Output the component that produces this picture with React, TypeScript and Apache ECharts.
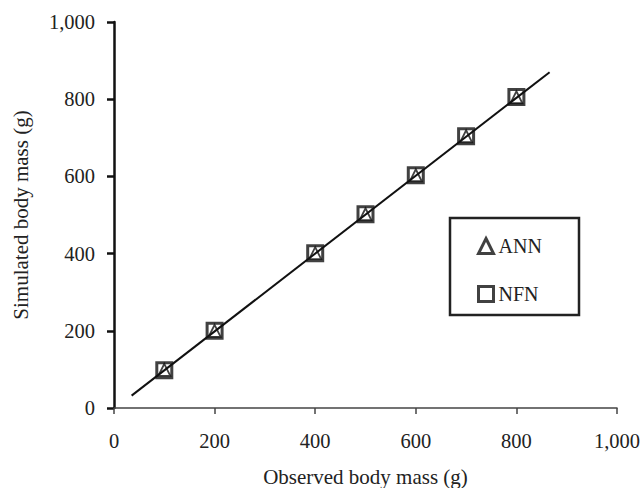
import React, { useEffect, useRef } from "react";
import * as echarts from "echarts";

const observed = [100, 200, 400, 500, 600, 700, 800];
const annSimulated = [99, 200, 401, 502, 603, 704, 805];
const nfnSimulated = [98, 200, 401, 502, 603, 704, 806];
const fitLineX = [35, 866];
const fitLineY = [32, 870];
const seriesNames = ["ANN", "NFN"];

const FONT = "'Liberation Serif', 'DejaVu Serif', serif";

export default function App() {
  const ref = useRef<HTMLDivElement>(null);
  useEffect(() => {
    if (!ref.current) return;
    const chart = echarts.init(ref.current, undefined, { renderer: "svg" });
    const fmt = (v: number) => v.toLocaleString("en-US");
    chart.setOption({
      animation: false,
      backgroundColor: "#ffffff",
      grid: { left: 114, right: 23, top: 22, bottom: 80, containLabel: false, outerBoundsMode: "none" },
      xAxis: {
        type: "value",
        min: 0,
        max: 1000,
        interval: 200,
        name: "Observed body mass (g)",
        nameLocation: "middle",
        nameGap: 58,
        nameTextStyle: { fontFamily: FONT, fontSize: 21, color: "#222" },
        axisLine: { show: true, lineStyle: { color: "#444", width: 1.5 } },
        axisTick: { show: true, length: 6, lineStyle: { color: "#444", width: 1.5 } },
        axisLabel: { fontFamily: FONT, fontSize: 20.5, color: "#222", margin: 22, formatter: fmt },
        splitLine: { show: false },
      },
      yAxis: {
        type: "value",
        min: 0,
        max: 1000,
        interval: 200,
        name: "Simulated body mass (g)",
        nameLocation: "middle",
        nameGap: 83,
        nameTextStyle: { fontFamily: FONT, fontSize: 21, color: "#222" },
        axisLine: { show: true, lineStyle: { color: "#111", width: 2.5 } },
        axisTick: { show: true, length: 7, lineStyle: { color: "#111", width: 2.5 } },
        axisLabel: { fontFamily: FONT, fontSize: 20.5, color: "#222", margin: 19, formatter: fmt },
        splitLine: { show: false },
      },
      legend: {
        orient: "vertical",
        left: 472,
        top: 231,
        itemWidth: 15,
        itemHeight: 15,
        itemGap: 28,
        textStyle: { fontFamily: FONT, fontSize: 20, color: "#222" },
        data: [
          {
            name: seriesNames[0],
            icon: "triangle",
            itemStyle: { color: "transparent", borderColor: "#111", borderWidth: 3 },
          },
          {
            name: seriesNames[1],
            icon: "rect",
            itemStyle: { color: "transparent", borderColor: "#111", borderWidth: 3 },
          },
        ],
      },
      graphic: [
        {
          type: "rect",
          shape: { x: 450, y: 218, width: 129, height: 97 },
          style: { fill: "#fff", stroke: "#222", lineWidth: 2.5 },
          z: -1,
        },
      ],
      series: [
        {
          name: "fit",
          type: "line",
          data: fitLineX.map((x, i) => [x, fitLineY[i]]),
          showSymbol: false,
          symbol: "none",
          lineStyle: { color: "#111", width: 2 },
          silent: true,
          z: 1,
        },
        {
          name: seriesNames[1],
          type: "scatter",
          symbol: "rect",
          symbolSize: 15,
          data: observed.map((x, i) => [x, nfnSimulated[i]]),
          itemStyle: { color: "transparent", borderColor: "#111", borderWidth: 3 },
          z: 3,
        },
        {
          name: seriesNames[0],
          type: "scatter",
          symbol: "triangle",
          symbolSize: 12,
          data: observed.map((x, i) => [x, annSimulated[i]]),
          itemStyle: { color: "transparent", borderColor: "#111", borderWidth: 1.8 },
          z: 4,
        },
      ],
    });
    return () => chart.dispose();
  }, []);
  return (
    <div
      ref={ref}
      style={{ position: "fixed", left: 0, top: 0, width: 640, height: 488, background: "#fff" }}
    />
  );
}
